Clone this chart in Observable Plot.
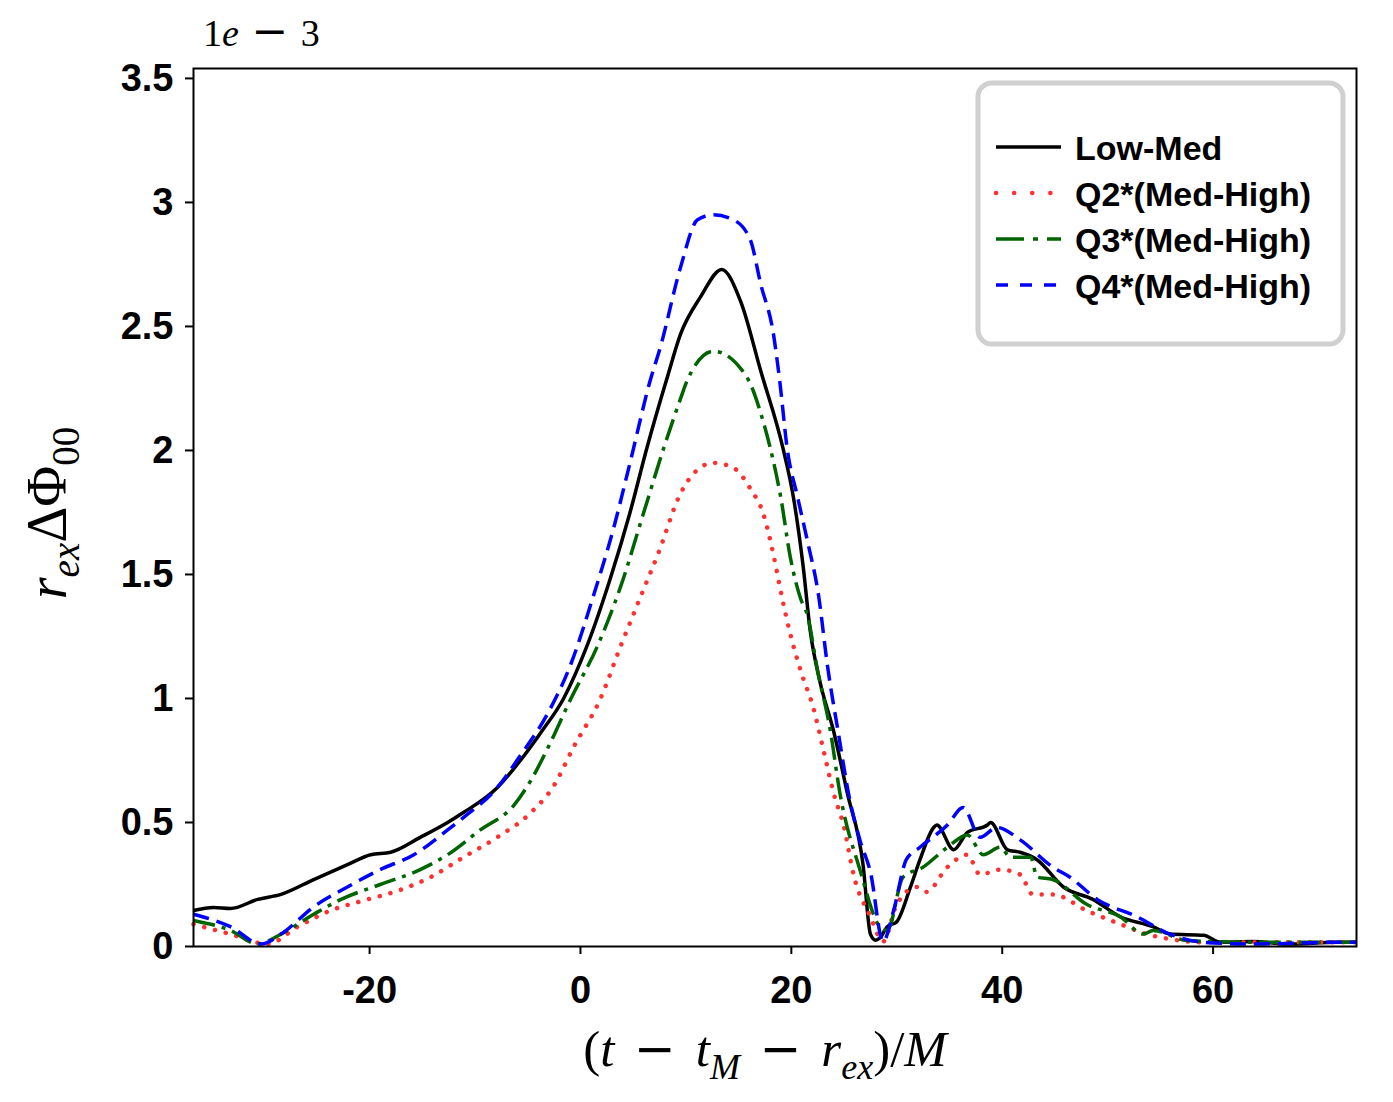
<!DOCTYPE html>
<html>
<head>
<meta charset="utf-8">
<script src="https://cdn.jsdelivr.net/npm/d3@7"></script>
<script src="https://cdn.jsdelivr.net/npm/@observablehq/plot@0.6"></script>
<style>
  html, body { margin: 0; padding: 0; background: white; }
  #chart svg { display: block; }
</style>
</head>
<body>
<div id="chart"></div>
<script>
// ---- data (t, value in units of 1e-3) ----
const lowMed = [
  [-36.7,0.145],[-34.8,0.157],[-33.2,0.153],[-30.6,0.19],[-28.4,0.21],[-25.3,0.27],[-22.1,0.33],
  [-19.9,0.37],[-18.0,0.38],[-15.2,0.44],[-12.6,0.50],[-11.1,0.54],[-7.9,0.64],[-5.7,0.75],
  [-3.8,0.86],[-1.6,1.00],[0.6,1.21],[2.8,1.48],[4.7,1.75],[6.3,2.01],[8.2,2.29],[9.5,2.47],
  [11.4,2.62],[13.4,2.73],[15.2,2.60],[17.1,2.32],[19.2,2.01],[20.2,1.81],[21.1,1.54],[21.8,1.27],
  [22.7,1.07],[24.0,0.87],[25.3,0.62],[26.8,0.33],[27.5,0.05],[28.0,0.025],[28.4,0.035],[29.1,0.08],
  [30.0,0.10],[31.3,0.24],[32.2,0.35],[33.5,0.48],[33.8,0.49],[35.4,0.39],[36.7,0.46],[38.6,0.49],
  [38.9,0.50],[40.5,0.39],[41.7,0.38],[43.3,0.35],[45.8,0.24],[48.6,0.19],[51.2,0.12],[54.3,0.08],
  [55.9,0.05],[59.1,0.045],[60.7,0.017],[63.8,0.02],[67.0,0.01],[71.8,0.017],[73.6,0.017]
];
const q2 = [
  [-36.7,0.09],[-33.2,0.05],[-29.7,0.01],[-26.8,0.08],[-23.7,0.145],[-20.6,0.185],[-17.3,0.225],
  [-14.2,0.28],[-11.1,0.36],[-7.9,0.44],[-4.7,0.54],[-2.5,0.65],[-0.7,0.80],[1.9,1.00],[3.8,1.21],
  [5.7,1.41],[7.6,1.61],[9.2,1.80],[10.4,1.89],[12.6,1.95],[14.5,1.93],[16.2,1.84],[17.3,1.75],
  [18.3,1.58],[19.1,1.41],[19.9,1.26],[20.9,1.11],[22.1,0.96],[23.0,0.80],[24.0,0.62],[25.0,0.48],
  [25.9,0.29],[27.5,0.12],[28.7,0.02],[30.0,0.17],[31.9,0.24],[32.8,0.22],[34.8,0.32],[36.7,0.37],
  [37.9,0.29],[39.8,0.31],[41.7,0.29],[42.9,0.21],[44.8,0.21],[48.0,0.145],[51.2,0.09],[53.7,0.05],
  [55.9,0.03],[59.1,0.017],[73.6,0.017]
];
const q3 = [
  [-36.7,0.105],[-33.2,0.065],[-30.6,0.01],[-28.4,0.05],[-25.3,0.13],[-22.7,0.19],[-19.0,0.25],
  [-15.2,0.31],[-12.6,0.37],[-9.5,0.47],[-6.3,0.57],[-4.7,0.67],[-3.1,0.80],[-0.9,1.00],[1.6,1.21],
  [3.8,1.45],[6.0,1.75],[7.9,2.01],[9.5,2.21],[10.1,2.28],[12.6,2.40],[15.2,2.33],[16.1,2.27],
  [17.1,2.15],[18.0,2.01],[19.0,1.81],[19.9,1.57],[20.9,1.40],[21.5,1.34],[22.5,1.11],[23.7,0.87],
  [24.6,0.62],[26.5,0.31],[28.4,0.08],[29.1,0.065],[30.6,0.28],[32.5,0.32],[34.8,0.40],[36.7,0.45],
  [38.2,0.37],[39.8,0.40],[40.8,0.36],[42.7,0.36],[43.3,0.28],[44.8,0.27],[48.0,0.17],[51.2,0.12],
  [53.4,0.05],[54.3,0.065],[57.5,0.024],[63.8,0.017],[73.6,0.017]
];
const q4 = [
  [-36.7,0.13],[-33.2,0.08],[-30.3,0.01],[-28.4,0.05],[-25.3,0.16],[-22.1,0.24],[-19.0,0.31],
  [-15.8,0.37],[-12.6,0.47],[-11.1,0.52],[-7.9,0.64],[-5.7,0.77],[-3.1,0.94],[-0.9,1.14],[1.2,1.41],
  [3.1,1.68],[4.7,1.95],[6.6,2.28],[7.6,2.42],[9.5,2.74],[11.1,2.93],[12.6,2.95],[14.5,2.93],
  [16.1,2.85],[17.1,2.67],[18.3,2.47],[18.9,2.28],[19.6,2.01],[20.6,1.81],[21.5,1.64],[22.6,1.41],
  [23.4,1.14],[24.5,0.85],[25.5,0.60],[26.5,0.43],[27.5,0.30],[28.7,0.02],[29.7,0.145],[30.9,0.35],
  [32.2,0.40],[34.8,0.49],[36.3,0.56],[37.9,0.44],[39.5,0.48],[41.7,0.43],[44.8,0.32],[46.4,0.28],
  [49.0,0.19],[52.8,0.12],[55.9,0.05],[59.1,0.017],[63.8,0.01],[71.8,0.017],[73.6,0.017]
];
const seriesNames = ["Low-Med", "Q2*(Med-High)", "Q3*(Med-High)", "Q4*(Med-High)"];
const xTicks = [-20, 0, 20, 40, 60];
const yTicks = [0, 0.5, 1, 1.5, 2, 2.5, 3, 3.5];

// ---- styles ----
const styles = [
  {stroke: "black",   strokeWidth: 3.5, dash: null,       cap: "butt",  legendDash: null},
  {stroke: "#ff3030", strokeWidth: 4.5, dash: "0.1,11",   cap: "round", legendDash: "0.1,18"},
  {stroke: "#006400", strokeWidth: 3.5, dash: "22,7,4,7", cap: "butt",  legendDash: "28,9,5,9"},
  {stroke: "#0000ff", strokeWidth: 3.5, dash: "16,8",     cap: "butt",  legendDash: "12,12"}
];
const allSeries = [lowMed, q2, q3, q4];
const toRows = (arr) => arr.map(([t, v]) => ({t, v}));

const lineMarks = allSeries.map((s, i) => Plot.line(toRows(s), {
  x: "t", y: "v", curve: "monotone-x",
  stroke: styles[i].stroke, strokeWidth: styles[i].strokeWidth,
  strokeDasharray: styles[i].dash || undefined, strokeLinecap: styles[i].cap
}));

const fmt = d => String(d);
const plot = Plot.plot({
  width: 1393, height: 1102,
  marginLeft: 193, marginRight: 37, marginTop: 68, marginBottom: 156,
  x: {domain: [-36.7, 73.6]},
  y: {domain: [0, 3.54]},
  style: {fontFamily: "'Liberation Sans', Arial, sans-serif", fontSize: "38px", background: "white", overflow: "visible"},
  marks: [
    Plot.axisX({ticks: xTicks, tickFormat: fmt, tickSize: 8, tickPadding: 22, label: null,
                fontSize: 38, fontWeight: "bold", strokeWidth: 2}),
    Plot.axisY({ticks: yTicks, tickFormat: fmt, tickSize: 8, tickPadding: 12, label: null,
                fontSize: 38, fontWeight: "bold", strokeWidth: 2}),
    ...lineMarks,
    Plot.frame({stroke: "black", strokeWidth: 2})
  ]
});
document.getElementById("chart").appendChild(plot);

// ---- annotations: offset text, axis labels, legend ----
const svg = d3.select(plot);
const serif = "'Liberation Serif', 'Times New Roman', serif";
const minusFont = "'DejaVu Sans', sans-serif";

function minus(sel, size, gap, dyBefore) {
  const s = sel.append("tspan").text(" ");
  if (dyBefore) s.attr("dy", dyBefore);
  sel.append("tspan").attr("dx", gap).attr("font-family", minusFont).attr("font-size", size).text("\u2212");
  sel.append("tspan").attr("dx", gap).text(" ");
}

// offset text "1e − 3"
const off = svg.append("text").attr("x", 203).attr("y", 46).attr("text-anchor", "start")
  .attr("font-family", serif).attr("font-size", 38).attr("font-weight", "normal").attr("fill", "black");
off.append("tspan").text("1");
off.append("tspan").attr("font-style", "italic").text("e");
minus(off, 44, 3);
off.append("tspan").text("3");

// x label
const xl = svg.append("text").attr("x", 765).attr("y", 1066).attr("text-anchor", "middle")
  .attr("font-family", serif).attr("font-size", 51).attr("font-weight", "normal").attr("fill", "black");
xl.append("tspan").text("(");
xl.append("tspan").attr("font-style", "italic").text("t");
minus(xl, 50, 7);
xl.append("tspan").attr("font-style", "italic").text("t");
xl.append("tspan").attr("font-style", "italic").attr("font-size", 36).attr("dy", 13).text("M");
minus(xl, 50, 7, -13);
xl.append("tspan").attr("font-style", "italic").text("r");
xl.append("tspan").attr("font-style", "italic").attr("font-size", 36).attr("dy", 13).text("ex");
xl.append("tspan").attr("dy", -13).text(")/");
xl.append("tspan").attr("font-style", "italic").text("M");

// y label
const yl = svg.append("text").attr("transform", "translate(66,513) rotate(-90)").attr("text-anchor", "middle")
  .attr("font-family", serif).attr("font-size", 56).attr("font-weight", "normal").attr("fill", "black");
yl.append("tspan").attr("font-style", "italic").text("r");
yl.append("tspan").attr("font-style", "italic").attr("font-size", 39).attr("dy", 13).text("ex");
yl.append("tspan").attr("dy", -13).text("\u0394\u03A6");
yl.append("tspan").attr("font-size", 39).attr("dy", 13).text("00");

// legend
const lg = svg.append("g");
lg.append("rect").attr("x", 978).attr("y", 83).attr("width", 365).attr("height", 261).attr("rx", 14)
  .attr("fill", "white").attr("stroke", "#d0d0d0").attr("stroke-width", 5);
const rowY = [147, 193, 239, 285];
seriesNames.forEach((name, i) => {
  const st = styles[i];
  lg.append("line").attr("x1", 996).attr("x2", 1061).attr("y1", rowY[i]).attr("y2", rowY[i])
    .attr("stroke", st.stroke).attr("stroke-width", st.strokeWidth)
    .attr("stroke-dasharray", st.legendDash).attr("stroke-linecap", st.cap);
  lg.append("text").attr("x", 1075).attr("y", rowY[i] + 13).attr("text-anchor", "start")
    .attr("font-family", "'Liberation Sans', Arial, sans-serif").attr("font-size", 34)
    .attr("font-weight", "bold").attr("fill", "black").text(name);
});
</script>
</body>
</html>
